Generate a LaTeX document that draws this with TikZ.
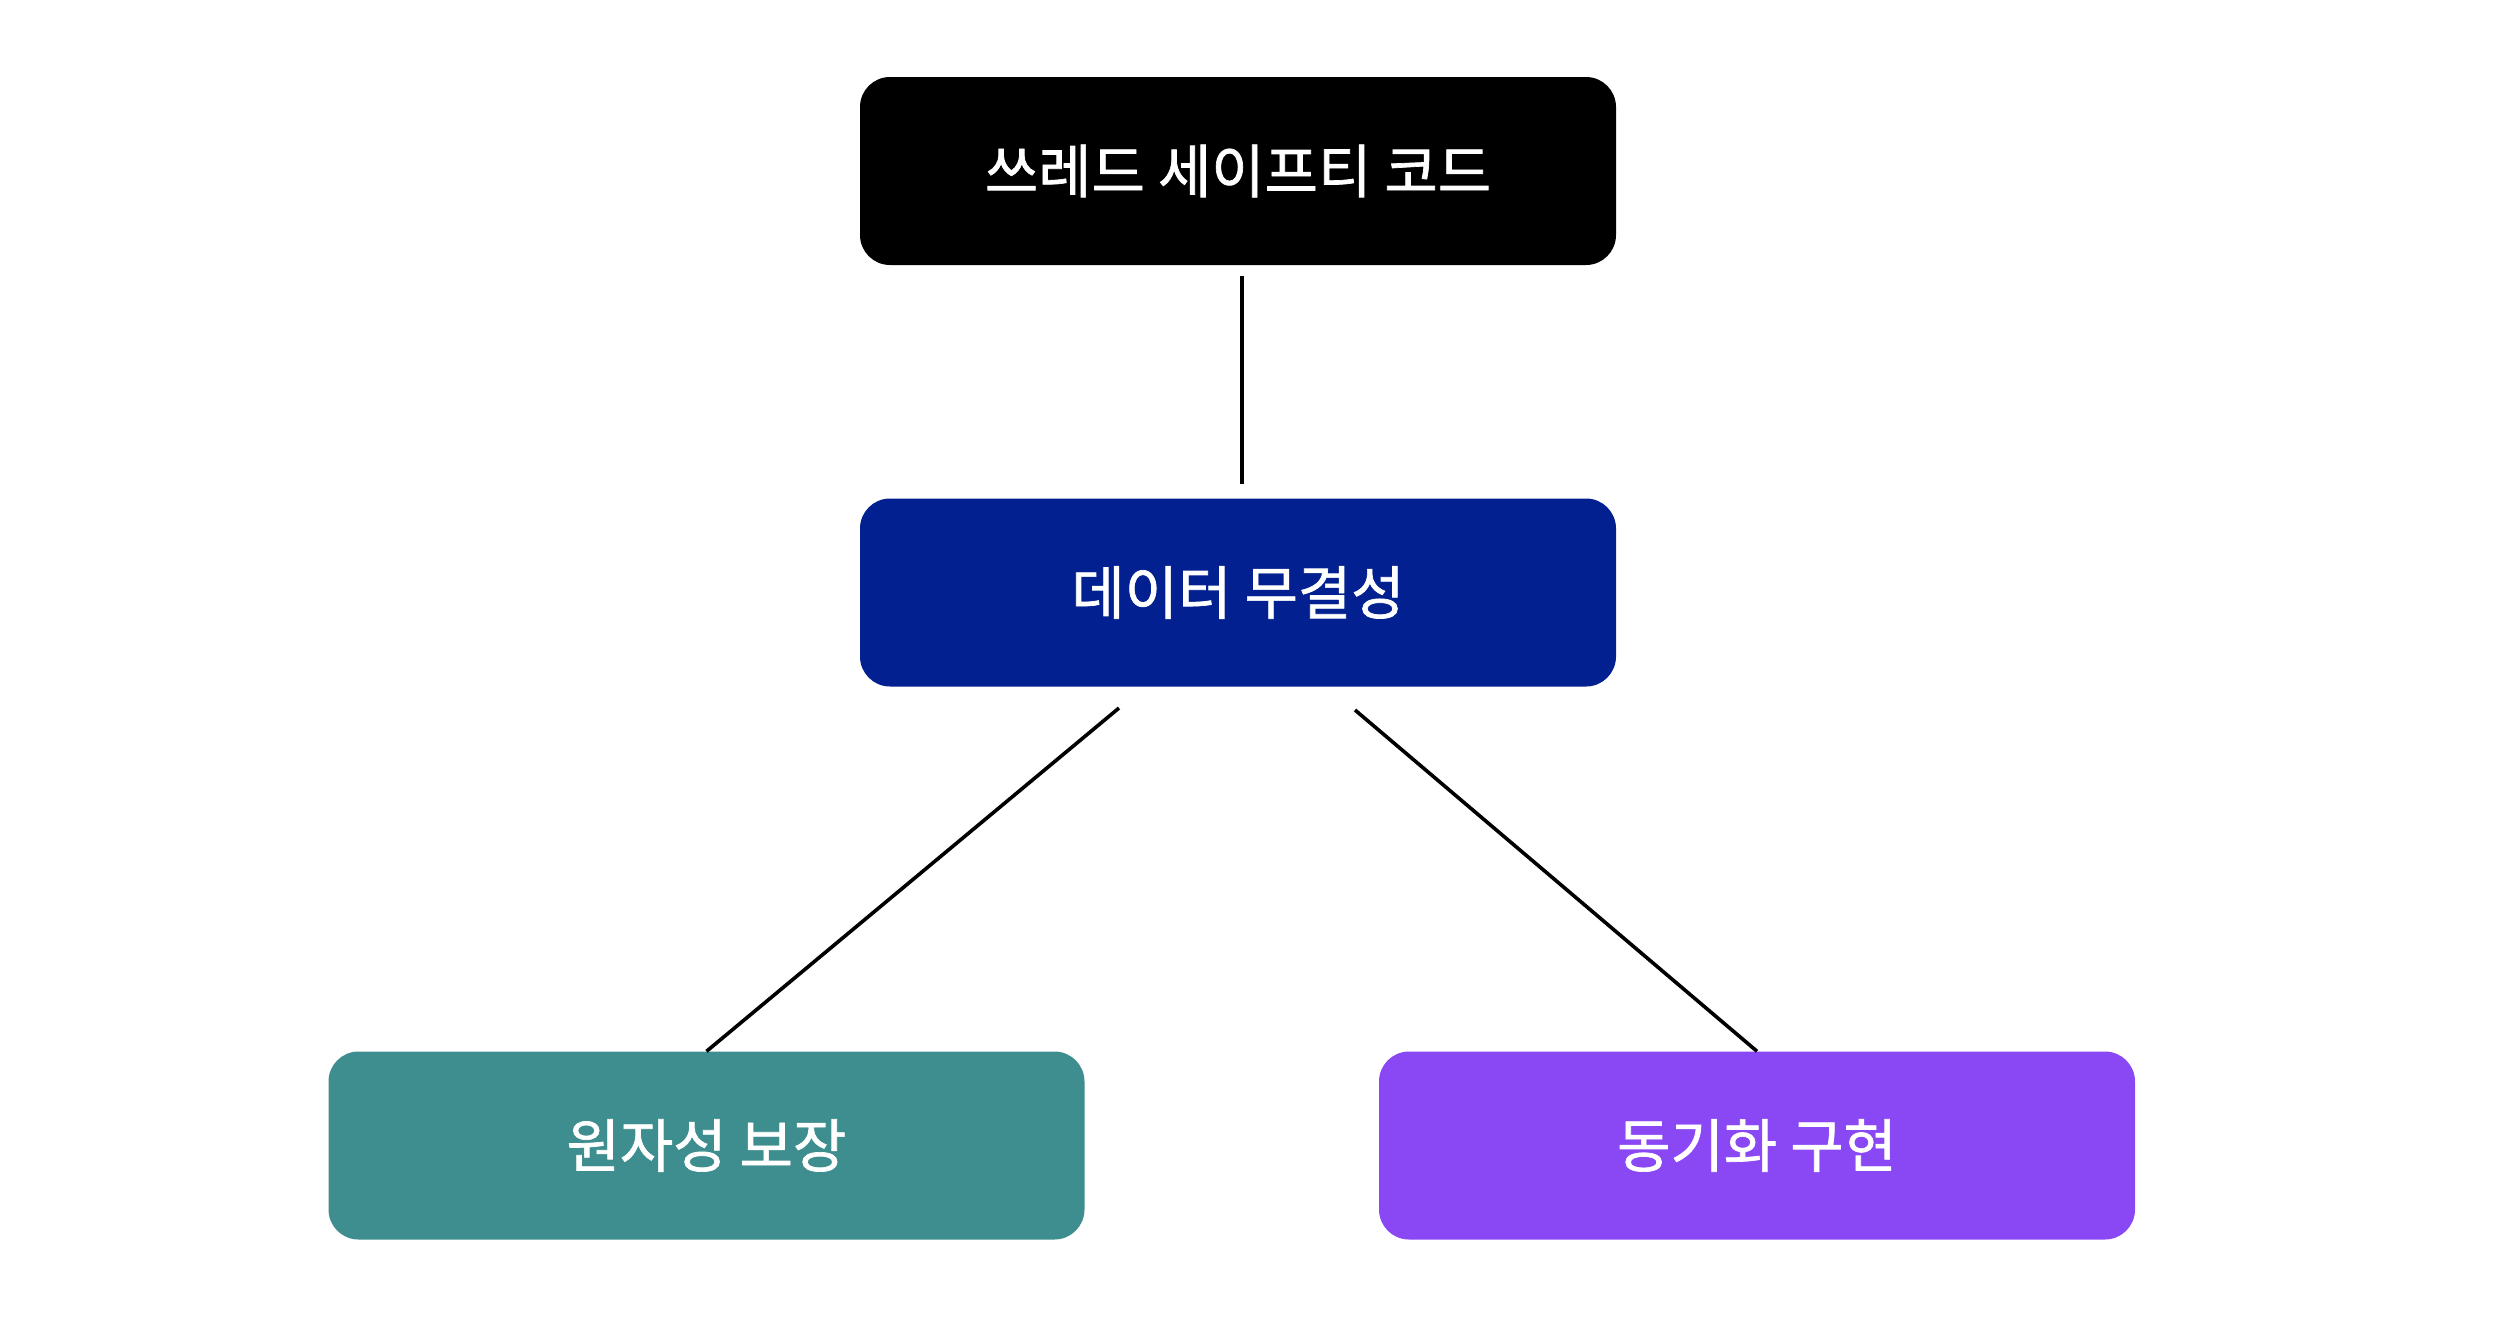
\documentclass[tikz,border=0pt]{standalone}
\usepackage{fontspec}
\newfontfamily\krfont[FakeBold=1.2]{Noto Sans CJK KR}
\definecolor{topc}{HTML}{000000}
\definecolor{midc}{HTML}{02208F}
\definecolor{leftc}{HTML}{3F8E8F}
\definecolor{rightc}{HTML}{8A48F5}
\begin{document}
\begin{tikzpicture}[x=1pt,y=-1pt,
  box/.style={rounded corners=30pt, minimum width=756pt, minimum height=188pt, inner sep=0pt, text=white, font=\krfont\fontsize{58}{70}\selectfont},
  link/.style={line width=3.6pt, draw=black}]
\useasboundingbox (0,0) rectangle (2506,1342);
\node[box, fill=topc] (top) at (1238,171) {쓰레드 세이프티 코드};
\node[box, fill=midc] (mid) at (1238,592.5) {데이터 무결성};
\node[box, fill=leftc] (bl) at (706.5,1145.5) {원자성 보장};
\node[box, fill=rightc] (br) at (1757,1145.5) {동기화 구현};
\coordinate (t1) at (1242,276);
\coordinate (t2) at (1242,484);
\coordinate (m1) at (1119,708);
\coordinate (m2) at (1355,710);
\draw[link] (t1) -- (t2);
\draw[link] (m1) -- (bl.north);
\draw[link] (m2) -- (br.north);
\end{tikzpicture}
\end{document}
